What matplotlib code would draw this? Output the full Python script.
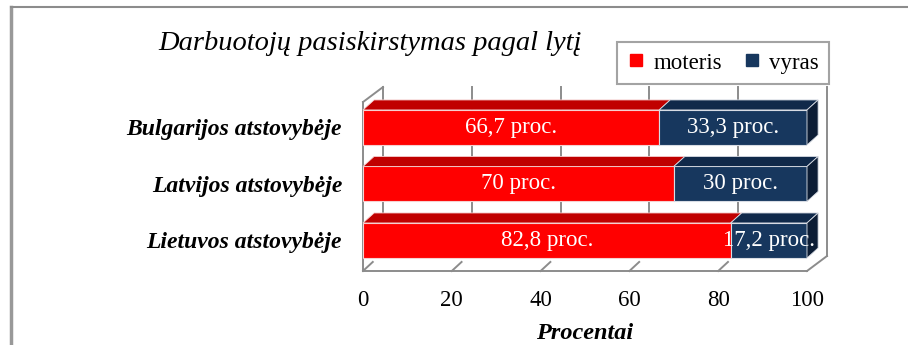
import matplotlib
matplotlib.use("Agg")
import matplotlib.pyplot as plt
from matplotlib.patches import Polygon
from matplotlib.lines import Line2D

plt.rcParams['font.family'] = ['Liberation Serif', 'DejaVu Serif']

# data (bottom to top)
categories = ['Lietuvos atstovybėje', 'Latvijos atstovybėje', 'Bulgarijos atstovybėje']
moteris = [82.8, 70, 66.7]
vyras = [17.2, 30, 33.3]
ticks = [0, 20, 40, 60, 80, 100]

red_front, red_top = '#FF0000', '#C00000'
navy_front, navy_top, navy_side = '#17375E', '#10294A', '#0C1D35'
wall = '#8C8C8C'

fig = plt.figure(figsize=(9.08, 3.45), dpi=100)
fig.patch.set_facecolor('white')
ax = fig.add_axes([363 / 908, 74 / 345, 444 / 908, 191 / 345])
ax.set_xlim(0, 100)
ax.set_ylim(-0.54, 2.84)
for s in ax.spines.values():
    s.set_visible(False)

# depth offsets for walls and bars (data units)
wdx, wdy = 4.5, 0.265
bdx, bdy = 2.5, 0.177
bh = 0.62
floor = -0.54
top_front = 2.45

# walls: left side, back gridlines, floor
wl = dict(color=wall, lw=1.4, clip_on=False, zorder=1)
ax.plot([0, 0], [floor, top_front], **wl)
ax.plot([wdx, wdx], [floor + wdy, top_front + wdy], **wl)
ax.plot([0, wdx], [top_front, top_front + wdy], **wl)
ax.plot([0, 100], [floor, floor], **wl)
ax.plot([100, 100 + wdx], [floor, floor + wdy], **wl)
for t in ticks[1:]:
    ax.plot([t + wdx, t + wdx], [floor + wdy, top_front + wdy], **wl)
for t in ticks[:-1]:
    ax.plot([t, t + 2.2], [floor, floor + 0.16], **wl)

ys = list(range(len(categories)))
ax.barh(ys, moteris, height=bh, color=red_front, edgecolor='#F6D0D0', lw=0.8, zorder=3)
ax.barh(ys, vyras, left=moteris, height=bh, color=navy_front, edgecolor='#D8DCE4', lw=0.8, zorder=3)

for y, m, v in zip(ys, moteris, vyras):
    top = y + bh / 2
    bot = y - bh / 2
    end = m + v
    ax.add_patch(Polygon([(0, top), (bdx, top + bdy), (m + bdx, top + bdy), (m, top)],
                         closed=True, fc=red_top, ec='#F6D0D0', lw=0.6, zorder=3, clip_on=False))
    ax.add_patch(Polygon([(m, top), (m + bdx, top + bdy), (end + bdx, top + bdy), (end, top)],
                         closed=True, fc=navy_top, ec='#D8DCE4', lw=0.6, zorder=3, clip_on=False))
    ax.add_patch(Polygon([(end, bot), (end, top), (end + bdx, top + bdy), (end + bdx, bot + bdy)],
                         closed=True, fc=navy_side, ec='#D8DCE4', lw=0.6, zorder=3, clip_on=False))
    ax.text(m / 2, y, f"{m:g}".replace('.', ',') + ' proc.', color='white',
            ha='center', va='center', fontsize=16.5, zorder=5)
    ax.text(m + v / 2, y, f"{v:g}".replace('.', ',') + ' proc.', color='white',
            ha='center', va='center', fontsize=16.5, zorder=5)

ax.set_yticks(ys)
ax.set_yticklabels(categories, fontsize=17, fontweight='bold', fontstyle='italic')
ax.set_xticks(ticks)
ax.set_xticklabels([str(t) for t in ticks], fontsize=16.5)
ax.tick_params(axis='both', length=0)
ax.tick_params(axis='y', pad=15)
ax.tick_params(axis='x', pad=14)
ax.set_xlabel('Procentai', fontsize=17.5, fontweight='bold', fontstyle='italic', labelpad=8)

fig.text(370 / 908, 1 - 44 / 345, 'Darbuotojų pasiskirstymas pagal lytį',
         fontsize=20.5, fontstyle='italic', ha='center', va='center')

handles = [Line2D([], [], marker='s', ls='', color=red_front, markersize=9),
           Line2D([], [], marker='s', ls='', color=navy_front, markersize=9)]
leg = fig.legend(handles, ['moteris', 'vyras'], loc='center', ncol=2,
                 bbox_to_anchor=(723 / 908, 1 - 63 / 345), fontsize=16.5,
                 frameon=True, fancybox=False, handlelength=0.8, handletextpad=0.35,
                 columnspacing=0.9, borderpad=0.45, borderaxespad=0)
leg.get_frame().set_edgecolor('#8C8C8C')
leg.get_frame().set_linewidth(1.5)

# outer frame
fig.add_artist(Line2D([11 / 908, 11 / 908], [0, 1 - 7 / 345], color='#999999', lw=2.5,
                      transform=fig.transFigure))
fig.add_artist(Line2D([11 / 908, 1], [1 - 7 / 345, 1 - 7 / 345], color='#8C8C8C', lw=1.5,
                      transform=fig.transFigure))

fig.savefig('out.png', dpi=100)
